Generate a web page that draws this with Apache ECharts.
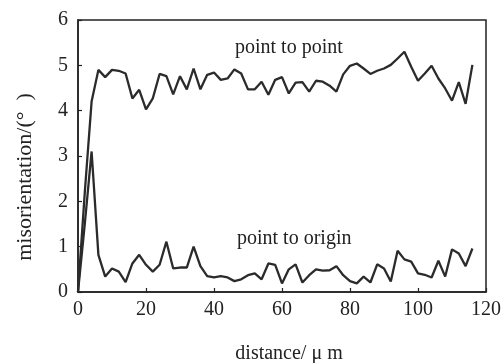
<!DOCTYPE html>
<html><head><meta charset="utf-8">
<script src="https://cdn.jsdelivr.net/npm/echarts@6/dist/echarts.min.js"></script>
<style>html,body{margin:0;padding:0;background:#fff}#c{width:504px;height:363px}</style>
</head><body><div id="c"></div>
<script>
var distance = [0,2,4,6,8,10,12,14,16,18,20,22,24,26,28,30,32,34,36,38,40,42,44,46,48,50,52,54,56,58,60,62,64,66,68,70,72,74,76,78,80,82,84,86,88,90,92,94,96,98,100,102,104,106,108,110,112,114,116];
var pointToPoint = [0,2.2,4.2,4.9,4.74,4.9,4.88,4.82,4.27,4.46,4.03,4.27,4.81,4.76,4.36,4.76,4.47,4.93,4.47,4.79,4.84,4.68,4.71,4.91,4.82,4.47,4.47,4.64,4.35,4.68,4.74,4.38,4.62,4.63,4.42,4.66,4.64,4.55,4.42,4.8,4.99,5.04,4.93,4.81,4.88,4.93,5.01,5.15,5.3,4.97,4.66,4.82,4.99,4.71,4.49,4.22,4.63,4.15,5.01];
var pointToOrigin = [0,1.5,3.1,0.82,0.34,0.52,0.45,0.22,0.63,0.82,0.6,0.45,0.6,1.11,0.52,0.54,0.54,1.0,0.57,0.35,0.32,0.35,0.32,0.24,0.28,0.37,0.41,0.28,0.63,0.6,0.19,0.5,0.61,0.21,0.37,0.5,0.47,0.48,0.57,0.37,0.24,0.19,0.34,0.21,0.61,0.52,0.23,0.91,0.72,0.67,0.41,0.38,0.32,0.69,0.34,0.94,0.85,0.57,0.96];
var xTicks = [0,20,40,60,80,100,120];
var yTicks = [0,1,2,3,4,5,6];
var seriesNames = ['point to point','point to origin'];

var font = '"Liberation Serif","DejaVu Serif",serif';
var chart = echarts.init(document.getElementById('c'));
function pairs(ys){return distance.map(function(x,i){return [x,ys[i]];});}
var axisCommon = {
  axisLine:{show:true,lineStyle:{color:'#222',width:1.5}},
  axisTick:{show:true,inside:true,length:4,lineStyle:{color:'#222',width:1.2}},
  splitLine:{show:false},
  axisLabel:{color:'#222',fontFamily:font,fontSize:20}
};
chart.setOption({
  animation:false,
  grid:{left:78,right:18,top:20,bottom:71,show:true,borderColor:'#222',borderWidth:1.5,backgroundColor:'transparent'},
  xAxis:Object.assign({type:'value',min:xTicks[0],max:xTicks[xTicks.length-1],interval:20},axisCommon,{axisLabel:Object.assign({},axisCommon.axisLabel,{margin:8})}),
  yAxis:Object.assign({type:'value',min:yTicks[0],max:yTicks[yTicks.length-1],interval:1},axisCommon,{axisLabel:Object.assign({},axisCommon.axisLabel,{margin:10})}),
  series:[
    {name:seriesNames[0],type:'line',data:pairs(pointToPoint),showSymbol:false,lineStyle:{color:'#2b2b2b',width:2.3}},
    {name:seriesNames[1],type:'line',data:pairs(pointToOrigin),showSymbol:false,lineStyle:{color:'#2b2b2b',width:2.3}}
  ],
  graphic:[
    {type:'text',left:235,top:38,style:{text:seriesNames[0],fontFamily:font,fontSize:20,fill:'#222'}},
    {type:'text',left:237,top:229,style:{text:seriesNames[1],fontFamily:font,fontSize:20,fill:'#222'}},
    {type:'text',x:25,y:177,rotation:Math.PI/2,style:{text:'misorientation/(°  )',fontFamily:font,fontSize:22,fill:'#222',align:'center',verticalAlign:'middle'}},
    {type:'text',x:289,y:354,style:{text:'distance/ μ m',fontFamily:font,fontSize:20,fill:'#222',align:'center',verticalAlign:'middle'}}
  ]
});
</script></body></html>
